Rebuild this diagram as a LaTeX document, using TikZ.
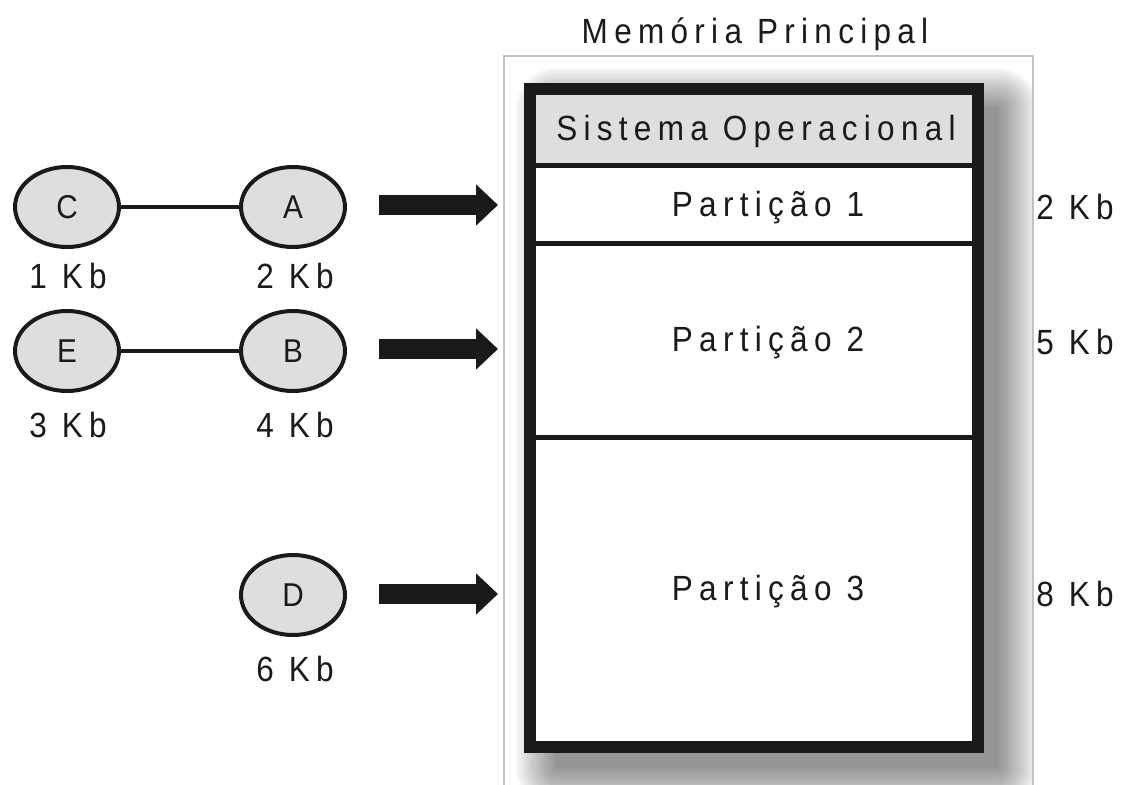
\documentclass[tikz,border=0pt]{standalone}
\usepackage{fontspec}
\setmainfont{Liberation Sans}[FakeStretch=0.9,LetterSpace=18]
\usetikzlibrary{arrows.meta,shapes.geometric}
\definecolor{bandgrey}{HTML}{DEDEDE}
\definecolor{framegrey}{HTML}{C4C4C4}
\definecolor{ink}{HTML}{1C1A18}
\begin{document}
\begin{tikzpicture}[x=1pt,y=-1pt,
  txt/.style={font=\fontsize{35}{42}\selectfont, text=ink, inner sep=0pt, anchor=base},
  proc/.style={ellipse, draw=ink, line width=4pt, fill=bandgrey, minimum width=104pt, minimum height=80pt, inner sep=0pt, font=\fontsize{33}{40}\selectfont, text=ink},
  link/.style={draw=ink, line width=4pt},
  bigarrow/.style={draw=ink, line width=20pt, line cap=butt, -{Triangle[length=22pt,width=40pt]}},
  divider/.style={draw=ink, line width=5pt}]
\useasboundingbox (0,0) rectangle (1121,784);
% outer light frame
\draw[framegrey, line width=1.5pt] (504,790) -- (504,56) -- (1033,56) -- (1033,790);
% shadow
\begin{scope}
  \clip (505,57) rectangle (1032,784);
  \foreach \i in {0,...,16} {
    \fill[black, opacity=0.03, rounded corners=\i*2.5pt]
      (556-\i*2.5, 108-\i*2.5) rectangle (998+\i*2.5, 768+\i*2.5);
  }
\end{scope}
% memory box
\fill[white] (530,89) rectangle (978,747);
\fill[bandgrey] (536,93) rectangle (972,165);
\draw[divider] (536,165) -- (972,165);
\draw[divider] (536,243) -- (972,243);
\draw[divider] (536,437) -- (972,437);
\draw[ink, line width=12pt] (530,89) rectangle (978,747);
\node (mem) [txt] at (755,44) {Memória Principal};
\node (so) [txt] at (756,140) {Sistema Operacional};
\node (p1) [txt] at (768,216) {Partição 1};
\node (p2) [txt] at (768,351) {Partição 2};
\node (p3) [txt] at (768,600) {Partição 3};
\node (s1) [txt] at (1075,219) {2 Kb};
\node (s2) [txt] at (1075,354) {5 Kb};
\node (s3) [txt] at (1075,606) {8 Kb};
% processes
\node (C) [proc] at (67,207) {C};
\node (A) [proc] at (293,207) {A};
\node (E) [proc] at (67,351) {E};
\node (B) [proc] at (293,351) {B};
\node (D) [proc] at (293,595) {D};
\draw[link] (C) -- (A);
\draw[link] (E) -- (B);
\node (kc) [txt] at (68,288) {1 Kb};
\node (ka) [txt] at (295,288) {2 Kb};
\node (ke) [txt] at (68,437) {3 Kb};
\node (kb) [txt] at (295,437) {4 Kb};
\node (kd) [txt] at (295,681) {6 Kb};
% arrows
\coordinate (a1s) at (379,205); \coordinate (a1e) at (498,205);
\coordinate (a2s) at (379,349); \coordinate (a2e) at (498,349);
\coordinate (a3s) at (379,594); \coordinate (a3e) at (498,594);
\draw[bigarrow] (a1s) -- (a1e);
\draw[bigarrow] (a2s) -- (a2e);
\draw[bigarrow] (a3s) -- (a3e);
\end{tikzpicture}
\end{document}
